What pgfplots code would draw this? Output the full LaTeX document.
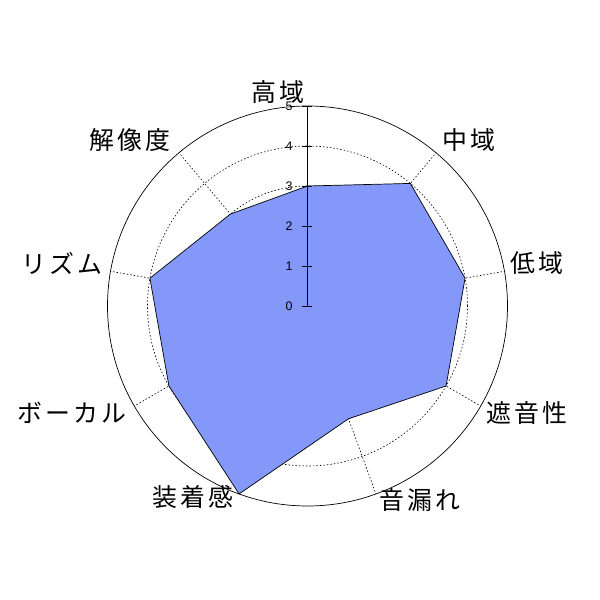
\documentclass[border=0pt]{standalone}
\usepackage{pgfplots}
\pgfplotsset{compat=1.18}
\usepackage{fontspec}
\setmainfont{Liberation Sans}
\newfontfamily\jp[LetterSpace=12]{Noto Sans CJK JP}
\definecolor{fillc}{RGB}{132,152,250}
\begin{document}
\begin{tikzpicture}[x=1bp,y=1bp]
\begin{axis}[
  x=40bp, y=40bp,
  xmin=-5, xmax=5, ymin=-5, ymax=5,
  hide axis, clip=false, scale only axis,
]
% grid circles
\draw[line width=0.6bp, dash pattern=on 1.5bp off 2bp] (axis cs:0,0) circle[radius=40bp];
\draw[line width=0.6bp, dash pattern=on 1.5bp off 2bp] (axis cs:0,0) circle[radius=80bp];
\draw[line width=0.6bp, dash pattern=on 1.5bp off 2bp] (axis cs:0,0) circle[radius=120bp];
\draw[line width=0.6bp, dash pattern=on 1.5bp off 2bp] (axis cs:0,0) circle[radius=160bp];
\draw[line width=0.7bp] (axis cs:0,0) circle[radius=200bp];
% spokes
\pgfplotsinvokeforeach{90,50,10,-30,-70,-110,-150,170,130}{
  \draw[line width=0.6bp, dash pattern=on 1.5bp off 2bp] (axis cs:0,0) -- ++(#1:200bp);
}
% data polygon (angle, value)
\addplot[fill=fillc, draw=black, line width=0.7bp, data cs=polar] coordinates {
  (90,3) (50,4) (10,4) (-30,4) (-70,3) (-110,5) (-150,4) (170,4) (130,3)
} -- cycle;
% value axis
\draw[line width=0.8bp] (axis cs:0,0) -- (axis cs:0,5);
\pgfplotsinvokeforeach{0,1,2,3,4,5}{
  \draw[line width=0.8bp] (axis cs:-0.13,#1) -- (axis cs:0.1,#1);
  \node[font=\fontsize{12.5}{13}\selectfont, inner sep=0pt] at (axis cs:-0.46,#1) {#1};
}
\coordinate (c) at (axis cs:0,0);
\end{axis}
\begin{scope}[every node/.style={font=\jp\fontsize{25}{26}\selectfont, inner sep=0pt}]
\node at ([shift={(-29.5bp,214bp)}]c) {高域};
\node at ([shift={(161.5bp,166bp)}]c) {中域};
\node at ([shift={(229.5bp,43bp)}]c) {低域};
\node at ([shift={(219.5bp,-107bp)}]c) {遮音性};
\node at ([shift={(112.5bp,-194bp)}]c) {音漏れ};
\node at ([shift={(-114.5bp,-191bp)}]c) {装着感};
\node at ([shift={(-235.5bp,-107bp)}]c) {ボーカル};
\node at ([shift={(-245.5bp,43bp)}]c) {リズム};
\node at ([shift={(-177.5bp,166bp)}]c) {解像度};
\end{scope}
\path ([shift={(-307.5bp,-294bp)}]c) rectangle ([shift={(292.5bp,306bp)}]c);
\end{tikzpicture}
\end{document}
